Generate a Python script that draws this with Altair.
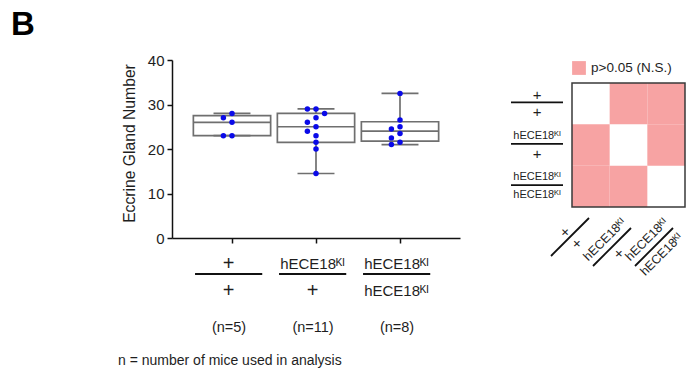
import altair as alt
import pandas as pd
import numpy as np

# ---------------- data ----------------
groups = [1, 2, 3]
upper_labels = ["+", "hECE18ᴷᴵ", "hECE18ᴷᴵ"]
lower_labels = ["+", "+", "hECE18ᴷᴵ"]
n_labels = ["(n=5)", "(n=11)", "(n=8)"]

g1_values = [28, 27, 26, 23, 23]
g2_values = [29, 29, 28, 27, 26, 25, 24, 23, 21.5, 20, 14.5]
g3_values = [32.5, 26.5, 25, 24.5, 23.5, 22.5, 21.5, 21]
all_values = [g1_values, g2_values, g3_values]

# pairwise comparison matrix (row-major, 3x3); "" = same genotype
heat_status = ["", "N.S.", "N.S.",
               "N.S.", "", "N.S.",
               "N.S.", "N.S.", ""]
legend_label = "p>0.05 (N.S.)"

y_ticks = [0, 10, 20, 30, 40]
y_title = "Eccrine Gland Number"
panel_letter = "B"
footnote = "n = number of mice used in analysis"

# ---------------- style ----------------
FONT = "Liberation Sans, Arial, Helvetica, sans-serif"
TXT = "#1e1e1e"
BOX = "#6f6f6f"
DOT = "#0a0ae8"
PINK = "#f7a3a3"

W, H = 288, 178
PX_PER_X = W / (26 / 7 - 2 / 7)     # pixels per group unit
PX_PER_Y = H / 40.0


def swarm(vals, slot_px=4.3, diam=6.2):
    """simple beeswarm: x offset (in group units) for each value"""
    placed, res = [], [0] * len(vals)
    order = sorted(range(len(vals)), key=lambda i: -vals[i])
    for i in order:
        y = vals[i] * PX_PER_Y
        for s in [0, -1, 1, -2, 2, -3, 3, -4, 4]:
            x = s * slot_px
            if all((x - px) ** 2 + (y - py) ** 2 >= diam ** 2 for px, py in placed):
                break
        placed.append((x, y))
        res[i] = s * slot_px / PX_PER_X
    return res


pts = []
for g, vals in zip(groups, all_values):
    for v, o in zip(vals, swarm(vals)):
        pts.append({"g": g, "v": v, "xo": g + o})
pts_df = pd.DataFrame(pts)

box_rows = []
for g, vals, up, lo, nl in zip(groups, all_values, upper_labels, lower_labels, n_labels):
    q1, med, q3 = np.percentile(vals, [25, 50, 75], method="weibull")
    box_rows.append({"g": g, "q1": q1, "med": med, "q3": q3,
                     "lo": min(vals), "hi": max(vals),
                     "up": up, "low": lo, "n": nl})
box_df = pd.DataFrame(box_rows)

xs = alt.Scale(domain=[2 / 7, 26 / 7], nice=False, zero=False)
ys = alt.Scale(domain=[0, 40], nice=False, zero=False)

base = alt.Chart(box_df).transform_calculate(
    xa="datum.g - 0.46", xb="datum.g + 0.46",
    ca="datum.g - 0.22", cb="datum.g + 0.22",
    la="datum.g - 0.44", lb="datum.g + 0.36",
)

x_axis = alt.Axis(values=groups, labels=False, title=None, grid=False, tickSize=5,
                  tickWidth=1.5, tickColor="#111", domainColor="#111", domainWidth=1.5)
y_axis = alt.Axis(values=y_ticks, title=y_title, grid=False, tickSize=5, tickWidth=1.5,
                  tickColor="#111", domainColor="#111", domainWidth=1.5,
                  labelFontSize=15, labelColor=TXT, labelPadding=3, labelFont=FONT,
                  titleFontSize=15.7, titleFontWeight="normal", titleColor=TXT,
                  titlePadding=10, titleFont=FONT, titleY=83)

boxes = base.mark_rect(fill="white", stroke=BOX, strokeWidth=1.7).encode(
    x=alt.X("xa:Q", scale=xs, axis=x_axis), x2="xb:Q",
    y=alt.Y("q1:Q", scale=ys, axis=y_axis), y2="q3:Q")
medians = base.mark_rule(color=BOX, strokeWidth=1.7).encode(
    x=alt.X("xa:Q", scale=xs, axis=None), x2="xb:Q",
    y=alt.Y("med:Q", scale=ys, axis=None))
wh_top = base.mark_rule(color=BOX, strokeWidth=1.7).encode(
    x=alt.X("g:Q", scale=xs, axis=None),
    y=alt.Y("q3:Q", scale=ys, axis=None), y2="hi:Q")
wh_bot = base.mark_rule(color=BOX, strokeWidth=1.7).encode(
    x=alt.X("g:Q", scale=xs, axis=None),
    y=alt.Y("lo:Q", scale=ys, axis=None), y2="q1:Q")
cap_top = base.mark_rule(color=BOX, strokeWidth=1.7).encode(
    x=alt.X("ca:Q", scale=xs, axis=None), x2="cb:Q",
    y=alt.Y("hi:Q", scale=ys, axis=None))
cap_bot = base.mark_rule(color=BOX, strokeWidth=1.7).encode(
    x=alt.X("ca:Q", scale=xs, axis=None), x2="cb:Q",
    y=alt.Y("lo:Q", scale=ys, axis=None))
dots = alt.Chart(pts_df).mark_circle(color=DOT, opacity=1, size=30).encode(
    x=alt.X("xo:Q", scale=xs, axis=None),
    y=alt.Y("v:Q", scale=ys, axis=None))

plus_size = "datum.t == '+'"


def geno_text(field, ypix):
    return base.transform_calculate(t=f"datum.{field}").mark_text(
        font=FONT, color=TXT, baseline="middle", align="center", dx=-3.5).encode(
        x=alt.X("g:Q", scale=xs, axis=None), y=alt.value(ypix), text="t:N",
        size=alt.condition(plus_size, alt.value(20), alt.value(15)))


g_up = geno_text("up", 204)
g_lo = geno_text("low", 231)
g_line = base.mark_rule(color="#111", strokeWidth=2).encode(
    x=alt.X("la:Q", scale=xs, axis=None), x2="lb:Q", y=alt.value(214))
n_txt = base.mark_text(font=FONT, color=TXT, fontSize=14.5, baseline="middle", dx=-3).encode(
    x=alt.X("g:Q", scale=xs, axis=None), y=alt.value(268), text="n:N")

letter = alt.Chart(pd.DataFrame({"t": [panel_letter]})).mark_text(
    font=FONT, fontSize=33, fontWeight="bold", color="black", align="left",
    baseline="alphabetic").encode(x=alt.value(-161), y=alt.value(-25), text="t:N")
foot = alt.Chart(pd.DataFrame({"t": [footnote]})).mark_text(
    font=FONT, fontSize=14, color=TXT, align="left", baseline="alphabetic").encode(
    x=alt.value(-54), y=alt.value(305), text="t:N")

# ---------------- heat map ----------------
HX0, HX1, HY0, HY1 = 400, 513, 23, 147
hx = alt.Scale(domain=[0, 3], range=[HX0, HX1], nice=False, zero=False)
hy = alt.Scale(domain=[0, 3], range=[HY0, HY1], nice=False, zero=False)
HPX = (HX1 - HX0) / 3
HPY = (HY1 - HY0) / 3

cells = pd.DataFrame({
    "r": [i // 3 for i in range(9)],
    "c": [i % 3 for i in range(9)],
    "s": heat_status,
})
cells["lab"] = [legend_label if s == "N.S." else "" for s in heat_status]

heat_cells = alt.Chart(cells).transform_filter("datum.s == 'N.S.'").transform_calculate(
    c1="datum.c + 1", r1="datum.r + 1").mark_rect(strokeWidth=0).encode(
    x=alt.X("c:Q", scale=hx, axis=None), x2="c1:Q",
    y=alt.Y("r:Q", scale=hy, axis=None), y2="r1:Q",
    color=alt.Color("lab:N", scale=alt.Scale(domain=[legend_label], range=[PINK]),
                    legend=alt.Legend(orient="none", legendX=HX0, legendY=1, title=None,
                                      symbolType="square", symbolSize=190,
                                      symbolStrokeWidth=0, labelFontSize=13.5,
                                      labelFont=FONT, labelColor=TXT, labelOffset=5,
                                      padding=0)))

frame = alt.Chart(pd.DataFrame({"a": [0], "b": [3]})).mark_rect(
    fill="white", fillOpacity=0, stroke="#3a3a3a", strokeWidth=1.5).encode(
    x=alt.X("a:Q", scale=hx, axis=None), x2="b:Q",
    y=alt.Y("a:Q", scale=hy, axis=None), y2="b:Q")

lab_df = pd.DataFrame({"k": [0, 1, 2], "up": upper_labels, "low": lower_labels})
lab_base = alt.Chart(lab_df)

# row labels
ROW_X = 365


def row_text(field, dy):
    return lab_base.transform_calculate(t=f"datum.{field}", rc="datum.k + 0.5").mark_text(
        font=FONT, color=TXT, baseline="middle", align="center", dy=dy).encode(
        x=alt.value(ROW_X), y=alt.Y("rc:Q", scale=hy, axis=None), text="t:N",
        size=alt.condition(plus_size, alt.value(15), alt.value(11)))


row_up = row_text("up", -9)
row_lo = row_text("low", 8.5)
row_line = lab_base.transform_calculate(rc=f"datum.k + 0.5 - {1.2 / HPY}").mark_rule(
    color="#111", strokeWidth=1.8).encode(
    x=alt.value(ROW_X - 26), x2=alt.value(ROW_X + 26),
    y=alt.Y("rc:Q", scale=hy, axis=None))

# column labels (rotated), spread a little wider than the cells
col_base = lab_base.transform_calculate(
    mx=f"(-2 + 42 * datum.k) / {HPX}",
    my=f"3 + (30 + (datum.k > 0 ? 10 : 0)) / {HPY}")


def col_text(field, dy_plus, dy_word):
    parts = []
    for test, dy in ((f"datum.{field} == '+'", dy_plus), (f"datum.{field} != '+'", dy_word)):
        parts.append(col_base.transform_filter(test).transform_calculate(
            t=f"datum.{field}").mark_text(
            font=FONT, color=TXT, baseline="middle", align="center", angle=315, dy=dy).encode(
            x=alt.X("mx:Q", scale=hx, axis=None), y=alt.Y("my:Q", scale=hy, axis=None),
            text="t:N",
            size=alt.condition(plus_size, alt.value(15), alt.value(12.5))))
    return parts


col_up = col_text("up", -7, -10.5)
col_lo = col_text("low", 9.5, 10.5)
col_line = col_base.transform_calculate(
    x1=f"datum.mx - {19 / HPX}", x2=f"datum.mx + {19 / HPX}",
    y1=f"datum.my + {19 / HPY}", y2=f"datum.my - {19 / HPY}").mark_rule(
    color="#111", strokeWidth=1.8).encode(
    x=alt.X("x1:Q", scale=hx, axis=None), x2="x2:Q",
    y=alt.Y("y1:Q", scale=hy, axis=None), y2="y2:Q")

chart = alt.layer(
    boxes, medians, wh_top, wh_bot, cap_top, cap_bot, dots,
    g_line, g_up, g_lo, n_txt, letter, foot,
    heat_cells, frame, row_line, row_up, row_lo, col_line, *col_up, *col_lo,
).resolve_scale(
    x="independent", y="independent"
).properties(
    width=W, height=H,
    autosize=alt.AutoSizeParams(type="none"),
    padding={"left": 172, "top": 60, "right": 227, "bottom": 137},
    background="white",
).configure(font=FONT).configure_view(strokeWidth=0)

chart.save("out.html", embed_options={"renderer": "svg", "actions": False})
